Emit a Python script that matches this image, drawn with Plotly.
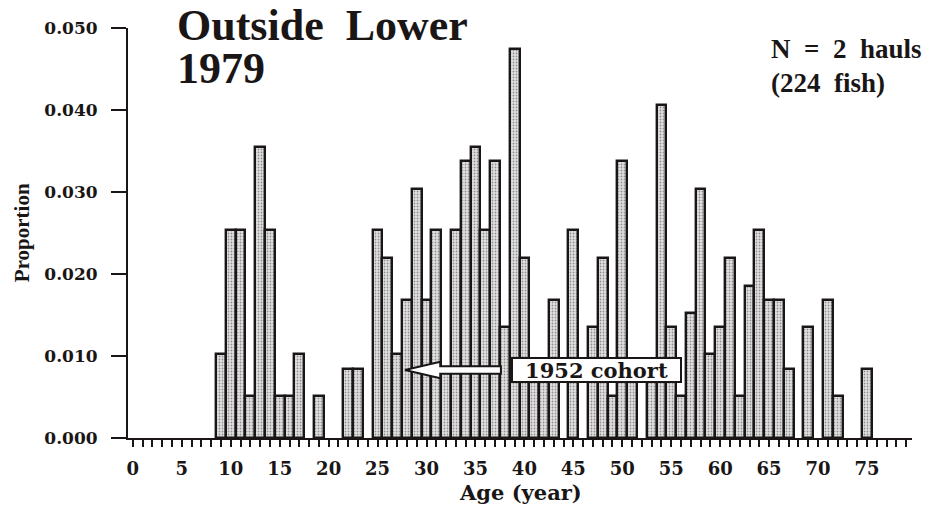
import plotly.graph_objects as go

# Age-frequency distribution, Outside Lower, 1979 (N = 2 hauls, 224 fish)
AGES = [9, 10, 11, 12, 13, 14, 15, 16, 17, 19,
        22, 23, 25, 26, 27, 28, 29, 30, 31, 32,
        33, 34, 35, 36, 37, 38, 39, 40, 41, 42,
        43, 45, 47, 48, 49, 50, 51, 53, 54, 55,
        56, 57, 58, 59, 60, 61, 62, 63, 64, 65,
        66, 67, 69, 71, 72, 75]
PROPORTION = [0.0102, 0.0254, 0.0254, 0.0051, 0.0355, 0.0254, 0.0051, 0.0051, 0.0102, 0.0051,
              0.0084, 0.0084, 0.0254, 0.0219, 0.0102, 0.0168, 0.0304, 0.0168, 0.0254, 0.0084,
              0.0254, 0.0338, 0.0355, 0.0254, 0.0338, 0.0135, 0.0474, 0.0219, 0.0084, 0.0084,
              0.0168, 0.0254, 0.0135, 0.0219, 0.0051, 0.0338, 0.0084, 0.0084, 0.0406, 0.0135,
              0.0051, 0.0152, 0.0304, 0.0102, 0.0135, 0.0219, 0.0051, 0.0185, 0.0254, 0.0168,
              0.0168, 0.0084, 0.0135, 0.0168, 0.0051, 0.0084]

X_TICKS = list(range(0, 80, 5))
Y_TICKS = [0.0, 0.01, 0.02, 0.03, 0.04, 0.05]

INK = "#1a1616"
AXIS_FONT = dict(family="DejaVu Serif", weight="bold", color=INK)
TITLE_FONT = dict(family="Liberation Serif", weight="bold", color=INK)

fig = go.Figure()
fig.add_trace(go.Bar(
    x=AGES,
    y=PROPORTION,
    width=1.0,
    marker=dict(
        color="#d8d8d8",
        line=dict(color=INK, width=2.4),
        pattern=dict(shape=".", fgcolor="#909090", bgcolor="#e2e2e2",
                     size=3, solidity=0.28, fillmode="replace"),
    ),
    hoverinfo="x+y",
))

# Hollow arrow pointing at the 1952 year class
arrow_tip, arrow_neck, arrow_tail = 27.8, 31.4, 37.6
arrow_y, head_h, shaft_h = 0.0083, 0.00100, 0.00045
arrow_path = (
    f"M {arrow_tip},{arrow_y} "
    f"L {arrow_neck},{arrow_y + head_h} "
    f"L {arrow_neck},{arrow_y + shaft_h} "
    f"L {arrow_tail},{arrow_y + shaft_h} "
    f"L {arrow_tail},{arrow_y - shaft_h} "
    f"L {arrow_neck},{arrow_y - shaft_h} "
    f"L {arrow_neck},{arrow_y - head_h} Z"
)
fig.add_shape(type="path", path=arrow_path, xref="x", yref="y",
              fillcolor="white", line=dict(color=INK, width=2), layer="above")

annotations = [
    dict(text="Outside\u00a0\u00a0Lower", x=0.06, y=1.008, xref="paper", yref="paper",
         xanchor="left", yanchor="middle", showarrow=False, height=38,
         font=dict(size=44, **TITLE_FONT)),
    dict(text="1979", x=0.06, y=0.903, xref="paper", yref="paper",
         xanchor="left", yanchor="middle", showarrow=False, height=38,
         font=dict(size=44, **TITLE_FONT)),
    dict(text="N\u00a0 =\u00a0 2\u00a0 hauls", x=0.818, y=0.95, xref="paper", yref="paper",
         xanchor="left", yanchor="middle", showarrow=False,
         font=dict(size=27, **TITLE_FONT)),
    dict(text="(224\u00a0 fish)", x=0.818, y=0.865, xref="paper", yref="paper",
         xanchor="left", yanchor="middle", showarrow=False,
         font=dict(size=27, **TITLE_FONT)),
    dict(text="1952\u00a0cohort", x=47.4, y=0.0083, xref="x", yref="y",
         xanchor="center", yanchor="middle", showarrow=False,
         width=165, height=20,
         bgcolor="white", bordercolor=INK, borderwidth=2, borderpad=1,
         font=dict(size=21, **AXIS_FONT)),
    dict(text="Proportion", x=-0.135, y=0.5, xref="paper", yref="paper",
         xanchor="center", yanchor="middle", showarrow=False, textangle=-90,
         font=dict(size=21, **TITLE_FONT)),
    dict(text="Age (year)", x=0.5, y=-0.134, xref="paper", yref="paper",
         xanchor="center", yanchor="middle", showarrow=False,
         font=dict(size=21, **AXIS_FONT)),
]

fig.update_layout(
    width=933, height=508,
    margin=dict(l=128, r=21, t=28, b=70),
    paper_bgcolor="white", plot_bgcolor="white",
    showlegend=False,
    bargap=0,
    annotations=annotations,
    xaxis=dict(
        range=[-0.5, 79.6],
        tickvals=X_TICKS,
        ticks="outside", ticklen=7, tickwidth=2, tickcolor=INK,
        minor=dict(dtick=1, tick0=0, ticks="outside", ticklen=7, tickwidth=2, tickcolor=INK),
        showline=True, linecolor=INK, linewidth=2,
        showgrid=False, zeroline=False,
        tickfont=dict(size=18, **AXIS_FONT),
        ticklabelstandoff=6,
    ),
    yaxis=dict(
        range=[0, 0.05],
        tickvals=Y_TICKS,
        tickformat=".3f",
        ticks="outside", ticklen=15, tickwidth=2, tickcolor=INK,
        showline=True, linecolor=INK, linewidth=2,
        showgrid=False, zeroline=False,
        tickfont=dict(size=17, **AXIS_FONT),
        ticklabelstandoff=10,
    ),
)

fig.write_html("out.html")
